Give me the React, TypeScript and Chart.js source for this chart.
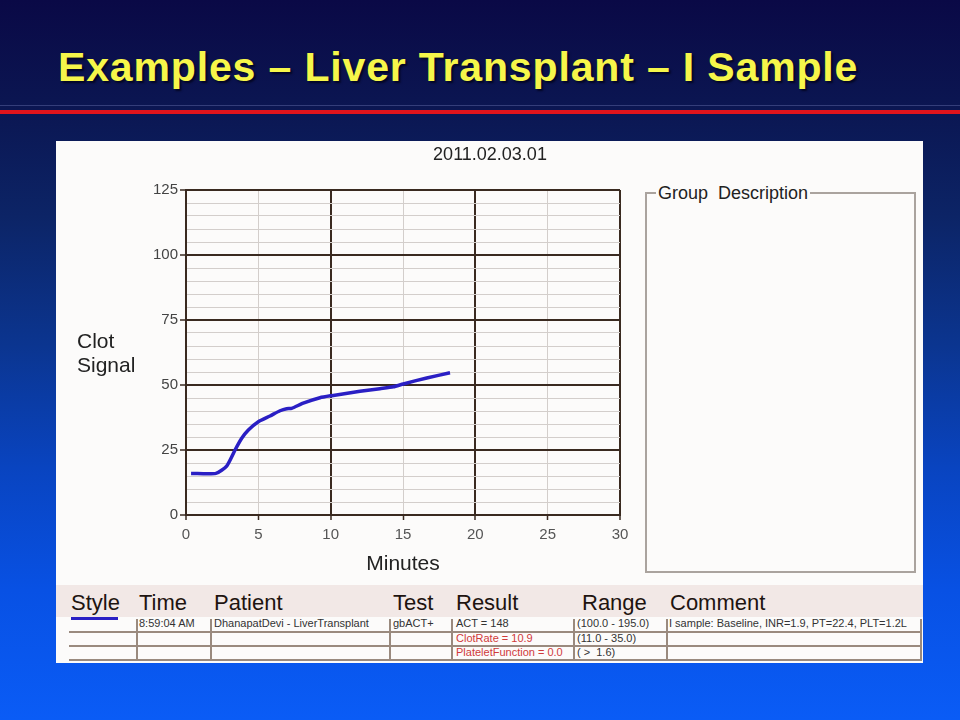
import React, { useEffect, useRef } from 'react';
import { Chart, registerables } from 'chart.js';

Chart.register(...registerables);

// ---------- data ----------
const slideTitle = 'Examples \u2013 Liver Transplant \u2013 I Sample';
const sampleId = '2011.02.03.01';
const xTitle = 'Minutes';
const yTitleLines = ['Clot', 'Signal'];
const groupLabel = 'Group  Description';

const minutes = [0.35, 2.07, 2.81, 3.39, 3.85, 4.31, 5.0, 5.81, 6.5, 6.96, 7.3, 8.1, 9.26, 10.07, 12.03, 13.4, 14.33, 15.02, 16.64, 18.25];
const clotSignal = [16.0, 16.0, 18.8, 25.0, 29.5, 32.7, 35.9, 38.1, 40.1, 40.9, 41.0, 43.0, 45.1, 45.9, 47.6, 48.6, 49.3, 50.4, 52.7, 54.7];

const xTickLabels = [0, 5, 10, 15, 20, 25, 30];
const yTickLabels = [0, 25, 50, 75, 100, 125];

const headers = ['Style', 'Time', 'Patient', 'Test', 'Result', 'Range', 'Comment'];
const times = ['8:59:04 AM', '', ''];
const patients = ['DhanapatDevi - LiverTransplant', '', ''];
const tests = ['gbACT+', '', ''];
const results = ['ACT = 148', 'ClotRate = 10.9', 'PlateletFunction = 0.0'];
const resultFlagged = [false, true, true];
const ranges = ['(100.0 - 195.0)', '(11.0 - 35.0)', '( >  1.6)'];
const comments = ['I sample: Baseline, INR=1.9, PT=22.4, PLT=1.2L', '', ''];

// ---------- styles ----------
const FONT = "'Liberation Sans', Arial, Helvetica, sans-serif";
const DARK = '#3a2a20';
const LIGHT = '#d3cecb';
const LINE_BLUE = '#2a1fc4';
const TABLE_LINE = '#9a8a7e';

const textPlugin = {
  id: 'slideText',
  afterDraw(chart: any) {
    const ctx = chart.ctx;
    ctx.save();
    ctx.fillStyle = '#222';
    ctx.font = `18px ${FONT}`;
    ctx.textAlign = 'center';
    ctx.textBaseline = 'alphabetic';
    ctx.fillText(sampleId, chart.width / 2, 19);
    ctx.font = `21px ${FONT}`;
    ctx.textAlign = 'left';
    ctx.fillText(yTitleLines[0], 21, 207);
    ctx.fillText(yTitleLines[1], 21, 231);
    ctx.restore();
  },
};

function ClotChart() {
  const ref = useRef<HTMLCanvasElement | null>(null);
  useEffect(() => {
    if (!ref.current) return;
    const chart = new Chart(ref.current, {
      type: 'line',
      data: {
        datasets: [
          {
            data: minutes.map((x, i) => ({ x, y: clotSignal[i] })),
            borderColor: LINE_BLUE,
            borderWidth: 3.5,
            pointRadius: 0,
            tension: 0.2,
            fill: false,
          },
        ],
      },
      options: {
        animation: false,
        responsive: false,
        layout: { padding: { top: 49, right: 304, left: 0, bottom: 0 } },
        plugins: {
          legend: { display: false },
          tooltip: { enabled: false },
          title: { display: false },
        },
        scales: {
          x: {
            type: 'linear',
            min: 0,
            max: 30,
            afterFit: (s: any) => {
              s.height = 70;
            },
            ticks: {
              stepSize: 5,
              autoSkip: false,
              maxRotation: 0,
              padding: 6,
              color: '#555',
              font: { family: FONT, size: 15 },
              callback: (v: any) => (xTickLabels.includes(Number(v)) ? String(v) : ''),
            },
            grid: {
              color: (c: any) => (c.tick && c.tick.value % 10 === 0 ? DARK : LIGHT),
              lineWidth: (c: any) => (c.tick && c.tick.value % 10 === 0 ? 2 : 1),
              tickColor: DARK,
              tickLength: 5,
              tickWidth: 1.5,
            },
            border: { color: DARK, width: 2 },
            title: {
              display: true,
              text: xTitle,
              color: '#222',
              font: { family: FONT, size: 21 },
              padding: { top: 0, bottom: 8 },
            },
          },
          y: {
            type: 'linear',
            min: 0,
            max: 125,
            afterFit: (s: any) => {
              s.width = 130;
            },
            ticks: {
              stepSize: 5,
              autoSkip: false,
              padding: 2,
              color: '#444',
              font: { family: FONT, size: 15 },
              callback: (v: any) => (yTickLabels.includes(Number(v)) ? String(v) : ''),
            },
            grid: {
              color: (c: any) => (c.tick && c.tick.value % 25 === 0 ? DARK : LIGHT),
              lineWidth: (c: any) => (c.tick && c.tick.value % 25 === 0 ? 2 : 1),
              tickColor: (c: any) => (c.tick && c.tick.value % 25 === 0 ? DARK : 'rgba(0,0,0,0)'),
              tickLength: 6,
              tickWidth: 1.5,
            },
            border: { color: DARK, width: 2 },
          },
        },
      },
      plugins: [textPlugin],
    } as any);
    return () => chart.destroy();
  }, []);
  return (
    <canvas
      ref={ref}
      width={868}
      height={444}
      style={{ position: 'absolute', left: 56, top: 141, width: 868, height: 444 }}
    />
  );
}

const headerX = [71, 139, 214, 393, 456, 582, 670];
const cellX = [71, 139, 214, 393, 456, 577, 669];
const vLinesX = [136, 210, 389, 451, 573, 666, 920];
const hLinesY = [631, 645, 659];
const rowTops = [616, 630.5, 645];

export default function App() {
  const abs = (s: React.CSSProperties): React.CSSProperties => ({ position: 'absolute', ...s });
  const cellText = (text: string, x: number, top: number, color: string, key: string) => (
    <div
      key={key}
      style={abs({
        left: x,
        top,
        height: 14,
        lineHeight: '14px',
        fontSize: 11,
        fontFamily: FONT,
        color,
        whiteSpace: 'pre',
      })}
    >
      {text}
    </div>
  );
  return (
    <div
      style={{
        position: 'fixed',
        left: 0,
        top: 0,
        width: 960,
        height: 720,
        overflow: 'hidden',
        background:
          'linear-gradient(to bottom, #0a0946 0%, #0b1652 15%, #0c2466 30%, #0b3590 48%, #0944c0 65%, #0851e4 82%, #0a5cf6 100%)',
      }}
    >
      <div
        style={abs({
          left: 58,
          top: 47,
          fontFamily: FONT,
          fontWeight: 'bold',
          fontSize: 41,
          lineHeight: '41px',
          letterSpacing: '0.85px',
          color: '#f6f64a',
          whiteSpace: 'pre',
          textShadow: '2px 2px 2px rgba(0,0,20,0.7)',
        })}
      >
        {slideTitle}
      </div>
      <div style={abs({ left: 0, top: 105, width: 960, height: 1, background: 'rgba(80,90,150,0.6)' })} />
      <div style={abs({ left: 0, top: 110, width: 960, height: 4, background: '#e0141c' })} />

      {/* white panel */}
      <div style={abs({ left: 56, top: 141, width: 867, height: 522, background: '#fcfbfa' })} />

      <ClotChart />

      {/* group description box */}
      <div
        style={abs({
          left: 645,
          top: 192,
          width: 271,
          height: 381,
          border: '2px solid #aaa39e',
          boxSizing: 'border-box',
        })}
      />
      <div
        style={abs({
          left: 656,
          top: 182,
          padding: '0 2px',
          background: '#fcfbfa',
          fontFamily: FONT,
          fontSize: 18,
          lineHeight: '22px',
          color: '#222',
          whiteSpace: 'pre',
        })}
      >
        {groupLabel}
      </div>

      {/* table header band */}
      <div style={abs({ left: 56, top: 585, width: 867, height: 32, background: '#f2e8e6' })} />
      {headers.map((h, i) => (
        <div
          key={'h' + i}
          style={abs({
            left: headerX[i],
            top: 592,
            fontFamily: FONT,
            fontSize: 22,
            lineHeight: '22px',
            color: '#1e1410',
            whiteSpace: 'pre',
          })}
        >
          {h}
        </div>
      ))}
      {/* style swatch */}
      <div style={abs({ left: 71, top: 617, width: 47, height: 3, background: LINE_BLUE })} />

      {/* table lines */}
      {hLinesY.map((y, i) => (
        <div key={'hl' + i} style={abs({ left: 69, top: y, width: 852, height: 2, background: TABLE_LINE })} />
      ))}
      {vLinesX.map((x, i) => (
        <div key={'vl' + i} style={abs({ left: x, top: 619, width: 1.5, height: 42, background: TABLE_LINE })} />
      ))}

      {/* table cells */}
      {rowTops.map((top, r) => (
        <React.Fragment key={'r' + r}>
          {cellText(times[r], cellX[1], top, '#333', 't' + r)}
          {cellText(patients[r], cellX[2], top, '#333', 'p' + r)}
          {cellText(tests[r], cellX[3], top, '#333', 'te' + r)}
          {cellText(results[r], cellX[4], top, resultFlagged[r] ? '#d03a3a' : '#333', 're' + r)}
          {cellText(ranges[r], cellX[5], top, '#333', 'ra' + r)}
          {cellText(comments[r], cellX[6], top, '#333', 'c' + r)}
        </React.Fragment>
      ))}
    </div>
  );
}
